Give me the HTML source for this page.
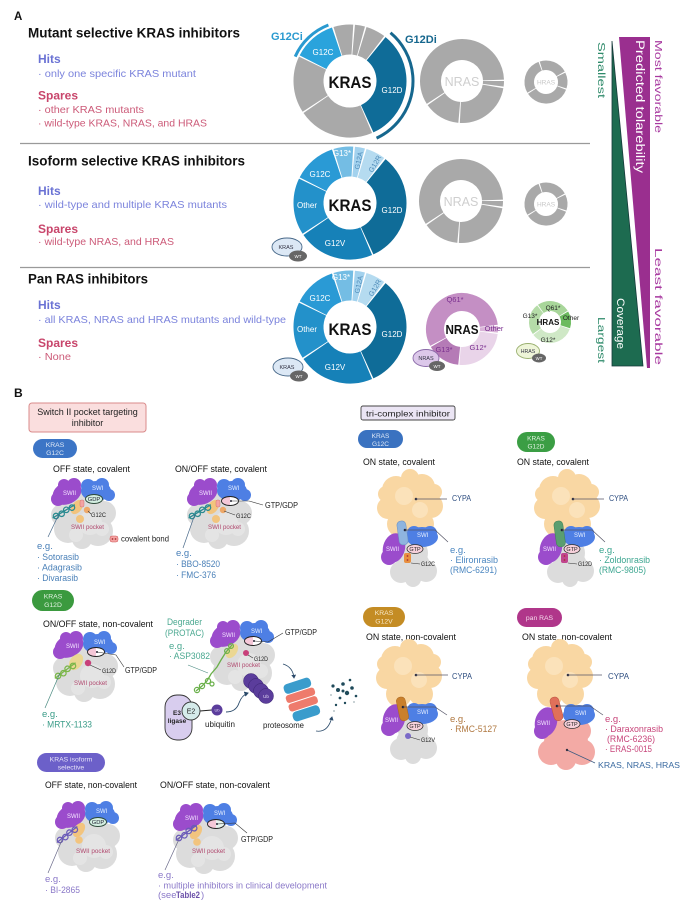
<!DOCTYPE html>
<html><head><meta charset="utf-8"><style>
html,body{margin:0;padding:0;background:#fff;}
svg{display:block;}
text{font-family:"Liberation Sans",Arial,sans-serif;}
</style></head><body>
<svg width="681" height="904" viewBox="0 0 681 904" xmlns="http://www.w3.org/2000/svg">
<defs>
<g id="prot">
  <g fill="#dcdcdc">
    <circle cx="0" cy="4" r="25"/><circle cx="-16" cy="14" r="14"/><circle cx="14" cy="16" r="15"/>
    <circle cx="-2" cy="24" r="10"/><circle cx="20" cy="-2" r="12"/><circle cx="-22" cy="0" r="11"/>
    <circle cx="4" cy="-12" r="16"/>
  </g>
  <g fill="#e4e4e4"><circle cx="6" cy="8" r="12"/><circle cx="-8" cy="20" r="7"/><circle cx="18" cy="14" r="7"/></g>
  <g fill="#9b4ccc">
    <ellipse cx="-17" cy="-22" rx="15" ry="11" transform="rotate(-25 -17 -22)"/>
    <circle cx="-26" cy="-16" r="7"/><circle cx="-10" cy="-30" r="7"/><circle cx="-20" cy="-30" r="6"/>
  </g>
  <g fill="#4e7fe4">
    <ellipse cx="12" cy="-24" rx="15" ry="10"/>
    <circle cx="4" cy="-29" r="7"/><circle cx="18" cy="-30" r="7"/><circle cx="25" cy="-20" r="6"/>
  </g>
</g>
<g id="cypa">
  <g fill="#f9d7a3">
    <circle cx="0" cy="0" r="24"/><circle cx="-14" cy="-14" r="14"/><circle cx="12" cy="-17" r="13"/>
    <circle cx="-22" cy="4" r="11"/><circle cx="21" cy="2" r="12"/><circle cx="0" cy="-26" r="9"/>
    <circle cx="-10" cy="20" r="13"/><circle cx="12" cy="20" r="12"/><circle cx="-24" cy="-10" r="8"/><circle cx="24" cy="-12" r="8"/>
  </g>
  <g fill="#fbe2ba"><circle cx="-6" cy="-8" r="9"/><circle cx="10" cy="6" r="8"/></g>
</g>
<g id="chain" fill="none" stroke-width="1.3">
  <line x1="-4" y1="0" x2="22" y2="0"/>
  <circle cx="0" cy="0" r="2.7"/><circle cx="6" cy="1" r="2.7"/><circle cx="12" cy="0" r="2.7"/><circle cx="18" cy="1" r="2.7"/>
</g>
<marker id="ah" markerWidth="6" markerHeight="6" refX="4" refY="3" orient="auto"><path d="M0,0 L5,3 L0,6 z" fill="#2a4a6a"/></marker>
</defs>

<!-- ===== PART A ===== -->
<text x="14" y="20" font-size="11.5" font-weight="bold" fill="#111">A</text>

<text x="28" y="37.5" font-size="13.5" font-weight="bold" fill="#111" textLength="212" lengthAdjust="spacingAndGlyphs">Mutant selective KRAS inhibitors</text>
<text x="38" y="63" font-size="12" font-weight="bold" fill="#6a72d4">Hits</text>
<text x="38" y="77" font-size="10.5" fill="#7b83dc" textLength="158" lengthAdjust="spacingAndGlyphs">· only one specific KRAS mutant</text>
<text x="38" y="99.5" font-size="12" font-weight="bold" fill="#c8456b">Spares</text>
<text x="38" y="113" font-size="10.5" fill="#cc5a78" textLength="106" lengthAdjust="spacingAndGlyphs">· other KRAS mutants</text>
<text x="38" y="126.5" font-size="10.5" fill="#cc5a78" textLength="169" lengthAdjust="spacingAndGlyphs">· wild-type KRAS, NRAS, and HRAS</text>

<line x1="20" y1="143.5" x2="590" y2="143.5" stroke="#9a9a9a" stroke-width="1.3"/>

<text x="28" y="165.5" font-size="13.5" font-weight="bold" fill="#111" textLength="217" lengthAdjust="spacingAndGlyphs">Isoform selective KRAS inhibitors</text>
<text x="38" y="195" font-size="12" font-weight="bold" fill="#6a72d4">Hits</text>
<text x="38" y="208" font-size="10.5" fill="#7b83dc" textLength="189" lengthAdjust="spacingAndGlyphs">· wild-type and multiple KRAS mutants</text>
<text x="38" y="233" font-size="12" font-weight="bold" fill="#c8456b">Spares</text>
<text x="38" y="245" font-size="10.5" fill="#cc5a78" textLength="136" lengthAdjust="spacingAndGlyphs">· wild-type NRAS, and HRAS</text>

<line x1="20" y1="267.5" x2="590" y2="267.5" stroke="#9a9a9a" stroke-width="1.3"/>

<text x="28" y="283.5" font-size="13.5" font-weight="bold" fill="#111" textLength="120" lengthAdjust="spacingAndGlyphs">Pan RAS inhibitors</text>
<text x="38" y="309" font-size="12" font-weight="bold" fill="#6a72d4">Hits</text>
<text x="38" y="323" font-size="10.5" fill="#7b83dc" textLength="248" lengthAdjust="spacingAndGlyphs">· all KRAS, NRAS and HRAS mutants and wild-type</text>
<text x="38" y="347" font-size="12" font-weight="bold" fill="#c8456b">Spares</text>
<text x="38" y="360" font-size="10.5" fill="#cc5a78" textLength="33" lengthAdjust="spacingAndGlyphs">· None</text>

<!-- Sec1 donuts -->
<g transform="translate(350,81)" fill="none" stroke-width="30">
<circle r="41.5" stroke="#2aa3dc" stroke-dasharray="32.1 400" transform="rotate(207)"/>
<circle r="41.5" stroke="#a9a9a9" stroke-dasharray="14.7 400" transform="rotate(253)"/>
<circle r="41.5" stroke="#a9a9a9" stroke-dasharray="7.5 400" transform="rotate(-85)"/>
<circle r="41.5" stroke="#a9a9a9" stroke-dasharray="14.7 400" transform="rotate(-73)"/>
<circle r="41.5" stroke="#0f6c98" stroke-dasharray="84.3 400" transform="rotate(-51)"/>
<circle r="41.5" stroke="#a9a9a9" stroke-dasharray="56.7 400" transform="rotate(67)"/>
<circle r="41.5" stroke="#a9a9a9" stroke-dasharray="42.3 400" transform="rotate(147)"/>
</g>
<circle cx="350" cy="81" r="60" fill="none" stroke="#2a9ad0" stroke-width="3" stroke-dasharray="47 500" transform="rotate(204 350 81)"/>
<circle cx="350" cy="81" r="63" fill="none" stroke="#16678e" stroke-width="3" stroke-dasharray="126.5 500" transform="rotate(-50 350 81)"/>
<text x="271" y="40" font-size="11" font-weight="bold" fill="#2a9ad0">G12Ci</text>
<text x="405" y="43" font-size="11" font-weight="bold" fill="#16678e">G12Di</text>
<text x="350" y="88" font-size="16.5" font-weight="bold" fill="#111" text-anchor="middle" textLength="43" lengthAdjust="spacingAndGlyphs">KRAS</text>
<text x="323" y="55" font-size="8" fill="#fff" text-anchor="middle">G12C</text>
<text x="392" y="93" font-size="8" fill="#fff" text-anchor="middle">G12D</text>

<g transform="translate(462,81)" fill="none" stroke-width="21" stroke="#a9a9a9">
<circle r="31.5" stroke-dasharray="115.9 300" transform="rotate(147)"/>
<circle r="31.5" stroke-dasharray="4.3 300" transform="rotate(0)"/>
<circle r="31.5" stroke-dasharray="45.5 300" transform="rotate(10)"/>
<circle r="31.5" stroke-dasharray="27.4 300" transform="rotate(95)"/>
</g>
<text x="462" y="86" font-size="12.5" fill="#cfcfcf" text-anchor="middle">NRAS</text>
<g transform="translate(546,82)" fill="none" stroke-width="9.5" stroke="#a9a9a9">
<circle r="16.75" stroke-dasharray="22.7 200" transform="rotate(253)"/>
<circle r="16.75" stroke-dasharray="12.7 200" transform="rotate(-26)"/>
<circle r="16.75" stroke-dasharray="36.7 200" transform="rotate(21)"/>
<circle r="16.75" stroke-dasharray="29.1 200" transform="rotate(150)"/>
</g>
<text x="546" y="84.5" font-size="6.5" fill="#c8c8c8" text-anchor="middle">HRAS</text>

<!-- Sec2 donuts -->
<g transform="translate(350,203)" fill="none" stroke-width="30">
<circle r="41.5" stroke="#2a9ad5" stroke-dasharray="32.1 400" transform="rotate(207)"/>
<circle r="41.5" stroke="#74bde4" stroke-dasharray="14.7 400" transform="rotate(253)"/>
<circle r="41.5" stroke="#a3d2ee" stroke-dasharray="7.5 400" transform="rotate(-85)"/>
<circle r="41.5" stroke="#b5dbf0" stroke-dasharray="14.7 400" transform="rotate(-73)"/>
<circle r="41.5" stroke="#0f6c98" stroke-dasharray="84.3 400" transform="rotate(-51)"/>
<circle r="41.5" stroke="#1681b8" stroke-dasharray="56.7 400" transform="rotate(67)"/>
<circle r="41.5" stroke="#2391ca" stroke-dasharray="42.3 400" transform="rotate(147)"/>
</g>
<text x="350" y="211" font-size="16.5" font-weight="bold" fill="#111" text-anchor="middle" textLength="43" lengthAdjust="spacingAndGlyphs">KRAS</text>
<g font-size="8" fill="#fff" text-anchor="middle">
<text x="320" y="177">G12C</text><text x="342" y="156">G13*</text>
<text x="392" y="213">G12D</text><text x="335" y="246">G12V</text><text x="307" y="208">Other</text>
</g>
<text x="0" y="0" font-size="7" fill="#4d8ab8" text-anchor="middle" transform="translate(361,161) rotate(-78)">G12A</text>
<text x="0" y="0" font-size="7" fill="#4d8ab8" text-anchor="middle" transform="translate(377,165) rotate(-60)">G12R</text>

<g transform="translate(461,201)" fill="none" stroke-width="21" stroke="#a9a9a9">
<circle r="31.5" stroke-dasharray="115.9 300" transform="rotate(147)"/>
<circle r="31.5" stroke-dasharray="4.3 300" transform="rotate(0)"/>
<circle r="31.5" stroke-dasharray="45.5 300" transform="rotate(10)"/>
<circle r="31.5" stroke-dasharray="27.4 300" transform="rotate(95)"/>
</g>
<text x="461" y="206" font-size="12.5" fill="#cfcfcf" text-anchor="middle">NRAS</text>
<g transform="translate(546,204)" fill="none" stroke-width="9.5" stroke="#a9a9a9">
<circle r="16.75" stroke-dasharray="22.7 200" transform="rotate(253)"/>
<circle r="16.75" stroke-dasharray="12.7 200" transform="rotate(-26)"/>
<circle r="16.75" stroke-dasharray="36.7 200" transform="rotate(21)"/>
<circle r="16.75" stroke-dasharray="29.1 200" transform="rotate(150)"/>
</g>
<text x="546" y="206.5" font-size="6.5" fill="#c8c8c8" text-anchor="middle">HRAS</text>

<!-- WT badge sec2 -->
<ellipse cx="287" cy="247" rx="15" ry="9" fill="#dce8f5" stroke="#4a6a8a" stroke-width="0.9"/>
<text x="286" y="249" font-size="5.5" fill="#334" text-anchor="middle">KRAS</text>
<ellipse cx="298" cy="256" rx="9" ry="5.5" fill="#666"/>
<text x="298" y="257.8" font-size="4.5" fill="#fff" text-anchor="middle">WT</text>

<!-- Sec3 donuts -->
<g transform="translate(350,327)" fill="none" stroke-width="30">
<circle r="41.5" stroke="#2a9ad5" stroke-dasharray="32.1 400" transform="rotate(207)"/>
<circle r="41.5" stroke="#74bde4" stroke-dasharray="14.7 400" transform="rotate(253)"/>
<circle r="41.5" stroke="#a3d2ee" stroke-dasharray="7.5 400" transform="rotate(-85)"/>
<circle r="41.5" stroke="#b5dbf0" stroke-dasharray="14.7 400" transform="rotate(-73)"/>
<circle r="41.5" stroke="#0f6c98" stroke-dasharray="84.3 400" transform="rotate(-51)"/>
<circle r="41.5" stroke="#1681b8" stroke-dasharray="56.7 400" transform="rotate(67)"/>
<circle r="41.5" stroke="#2391ca" stroke-dasharray="42.3 400" transform="rotate(147)"/>
</g>
<text x="350" y="335" font-size="16.5" font-weight="bold" fill="#111" text-anchor="middle" textLength="43" lengthAdjust="spacingAndGlyphs">KRAS</text>
<g font-size="8" fill="#fff" text-anchor="middle">
<text x="320" y="301">G12C</text><text x="341" y="280">G13*</text>
<text x="392" y="337">G12D</text><text x="335" y="370">G12V</text><text x="307" y="332">Other</text>
</g>
<text x="0" y="0" font-size="7" fill="#4d8ab8" text-anchor="middle" transform="translate(361,285) rotate(-78)">G12A</text>
<text x="0" y="0" font-size="7" fill="#4d8ab8" text-anchor="middle" transform="translate(377,289) rotate(-60)">G12R</text>
<ellipse cx="288" cy="367" rx="15" ry="9" fill="#dce8f5" stroke="#4a6a8a" stroke-width="0.9"/>
<text x="287" y="369" font-size="5.5" fill="#334" text-anchor="middle">KRAS</text>
<ellipse cx="299" cy="376" rx="9" ry="5.5" fill="#666"/>
<text x="299" y="377.8" font-size="4.5" fill="#fff" text-anchor="middle">WT</text>

<!-- NRAS pink -->
<g transform="translate(462,329)" fill="none" stroke-width="18">
<circle r="27" stroke="#c48fc4" stroke-dasharray="94.7 300" transform="rotate(152)"/>
<circle r="27" stroke="#d9b3d8" stroke-dasharray="5.1 300" transform="rotate(-5)"/>
<circle r="27" stroke="#e9d4e9" stroke-dasharray="40.5 300" transform="rotate(8)"/>
<circle r="27" stroke="#b57bb6" stroke-dasharray="25.4 300" transform="rotate(96)"/>
</g>
<text x="462" y="334" font-size="12.5" font-weight="bold" fill="#111" text-anchor="middle" textLength="33" lengthAdjust="spacingAndGlyphs">NRAS</text>
<g font-size="7.5" fill="#7a2f8f" text-anchor="middle">
<text x="455" y="302">Q61*</text><text x="494" y="331">Other</text><text x="478" y="350">G12*</text><text x="444" y="352">G13*</text>
</g>
<ellipse cx="426" cy="358" rx="13" ry="8.5" fill="#dcc8ea" stroke="#8a6aa8" stroke-width="0.9"/>
<text x="426" y="360" font-size="5.5" fill="#334" text-anchor="middle">NRAS</text>
<ellipse cx="437" cy="366" rx="8" ry="5" fill="#666"/>
<text x="437" y="367.8" font-size="4.5" fill="#fff" text-anchor="middle">WT</text>

<!-- HRAS green -->
<g transform="translate(550,322)" fill="none" stroke-width="10">
<circle r="16" stroke="#a8d69a" stroke-dasharray="25.7 200" transform="rotate(235)"/>
<circle r="16" stroke="#6cbb5e" stroke-dasharray="13.2 200" transform="rotate(-30)"/>
<circle r="16" stroke="#cfe8c6" stroke-dasharray="34.1 200" transform="rotate(20)"/>
<circle r="16" stroke="#b5dca8" stroke-dasharray="24.3 200" transform="rotate(145)"/>
</g>
<text x="548" y="325" font-size="8" font-weight="bold" fill="#111" text-anchor="middle">HRAS</text>
<g font-size="6.5" fill="#222" text-anchor="middle">
<text x="553" y="310">Q61*</text><text x="530" y="318">G13*</text><text x="571" y="320">Other</text><text x="548" y="342">G12*</text>
</g>
<ellipse cx="528" cy="351" rx="11.5" ry="7.5" fill="#eef5d8" stroke="#9ab070" stroke-width="0.9"/>
<text x="528" y="353" font-size="5.2" fill="#334" text-anchor="middle">HRAS</text>
<ellipse cx="539" cy="358" rx="7" ry="4.5" fill="#666"/>
<text x="539" y="359.8" font-size="4.3" fill="#fff" text-anchor="middle">WT</text>

<!-- Right bar -->
<polygon points="612,41 643,366 612,366" fill="#1d6b50" stroke="#163a3a" stroke-width="0.8"/>
<polygon points="619,37 650,37 650,368 647,368" fill="#9a2f8f"/>
<text font-size="11.5" fill="#fff" transform="translate(636,40) rotate(90)" textLength="133" lengthAdjust="spacingAndGlyphs">Predicted tolarebility</text>
<text font-size="11" fill="#fff" transform="translate(617,298) rotate(90)" textLength="51" lengthAdjust="spacingAndGlyphs">Coverage</text>
<text font-size="10.5" fill="#2e8a6a" transform="translate(598,42) rotate(90)" textLength="56" lengthAdjust="spacingAndGlyphs">Smallest</text>
<text font-size="10.5" fill="#2e8a6a" transform="translate(598,317) rotate(90)" textLength="46" lengthAdjust="spacingAndGlyphs">Largest</text>
<text font-size="10.5" fill="#a83aa0" transform="translate(655,40) rotate(90)" textLength="93" lengthAdjust="spacingAndGlyphs">Most favorable</text>
<text font-size="10.5" fill="#a83aa0" transform="translate(655,248) rotate(90)" textLength="117" lengthAdjust="spacingAndGlyphs">Least favorable</text>

<!-- ===== PART B ===== -->
<text x="14" y="397" font-size="12" font-weight="bold" fill="#111">B</text>
<rect x="29" y="403" width="117" height="29" rx="3" fill="#fadede" stroke="#d98b8b" stroke-width="1"/>
<text x="87.5" y="415" font-size="9" fill="#222" text-anchor="middle">Switch II pocket targeting</text>
<text x="87.5" y="426" font-size="9" fill="#222" text-anchor="middle">inhibitor</text>

<rect x="33" y="439" width="44" height="19" rx="9.5" fill="#3c75c6"/>
<text x="55" y="447" font-size="6.8" fill="#dfe9f7" text-anchor="middle">KRAS</text>
<text x="55" y="455" font-size="6.8" fill="#dfe9f7" text-anchor="middle">G12C</text>

<text x="53" y="472" font-size="9.5" fill="#111" textLength="77" lengthAdjust="spacingAndGlyphs">OFF state, covalent</text>
<text x="175" y="472" font-size="9.5" fill="#111" textLength="92" lengthAdjust="spacingAndGlyphs">ON/OFF state, covalent</text>

<!-- P1 -->
<use href="#prot" x="84" y="515"/>
<ellipse cx="77" cy="507" rx="5" ry="8" fill="#f2c47e" transform="rotate(35 77 507)"/>
<circle cx="80" cy="519" r="4" fill="#f2c47e"/>
<circle cx="87" cy="510" r="3.2" fill="#eea868"/>
<rect x="80" y="500" width="4" height="7" rx="1.5" fill="#f4a3a3" stroke="#c66" stroke-width="0.4"/>
<use href="#chain" stroke="#2a8a90" transform="translate(56,516) rotate(-31)"/>
<text x="63" y="495" font-size="6" fill="#f4e6ff">SWII</text>
<text x="92" y="490" font-size="6" fill="#e6efff">SWI</text>
<ellipse cx="94" cy="499" rx="8.5" ry="4.5" fill="#d4efe2" stroke="#2d4a3a" stroke-width="0.9"/>
<text x="94" y="501" font-size="5.8" fill="#223" text-anchor="middle">GDP</text>
<line x1="88" y1="511" x2="91" y2="514" stroke="#333" stroke-width="0.6"/>
<text x="91" y="517" font-size="6.5" fill="#222" textLength="15" lengthAdjust="spacingAndGlyphs">G12C</text>
<text x="71" y="529" font-size="6.5" fill="#b0486e" textLength="33" lengthAdjust="spacingAndGlyphs">SWII pocket</text>
<line x1="59" y1="514" x2="48" y2="537" stroke="#4a6a8a" stroke-width="0.7"/>
<rect x="110" y="536" width="8" height="6" rx="2" fill="#f4a3a3" stroke="#c55" stroke-width="0.5"/>
<circle cx="112.5" cy="539" r="0.9" fill="#a33"/><circle cx="115.5" cy="539" r="0.9" fill="#a33"/>
<text x="121" y="541.5" font-size="8" fill="#222" textLength="48" lengthAdjust="spacingAndGlyphs">covalent bond</text>
<g font-size="9.5" fill="#4a80b8">
<text x="37" y="549">e.g.</text>
<text x="37" y="560" textLength="42" lengthAdjust="spacingAndGlyphs">· Sotorasib</text>
<text x="37" y="570.5" textLength="45" lengthAdjust="spacingAndGlyphs">· Adagrasib</text>
<text x="37" y="581" textLength="41" lengthAdjust="spacingAndGlyphs">· Divarasib</text>
</g>

<!-- P2 -->
<use href="#prot" x="220" y="515"/>
<ellipse cx="213" cy="507" rx="5" ry="8" fill="#f2c47e" transform="rotate(35 213 507)"/>
<circle cx="216" cy="519" r="4" fill="#f2c47e"/>
<circle cx="223" cy="510" r="3.2" fill="#eea868"/>
<rect x="216" y="500" width="4" height="7" rx="1.5" fill="#f4a3a3" stroke="#c66" stroke-width="0.4"/>
<use href="#chain" stroke="#2a8a90" transform="translate(192,516) rotate(-31)"/>
<text x="199" y="495" font-size="6" fill="#f4e6ff">SWII</text>
<text x="228" y="490" font-size="6" fill="#e6efff">SWI</text>
<path d="M230,496.5 A8.5,4.5 0 0 0 230,505.5 Z" fill="#f5c8d8"/>
<path d="M230,496.5 A8.5,4.5 0 0 1 230,505.5 Z" fill="#fff"/>
<ellipse cx="230" cy="501" rx="8.5" ry="4.5" fill="none" stroke="#222" stroke-width="0.9"/>
<circle cx="231" cy="501" r="1" fill="#223"/>
<polyline points="231,501 249,501 263,505" fill="none" stroke="#333" stroke-width="0.6"/>
<text x="265" y="508" font-size="8" fill="#222" textLength="33" lengthAdjust="spacingAndGlyphs">GTP/GDP</text>
<line x1="224" y1="511" x2="235" y2="515" stroke="#333" stroke-width="0.6"/>
<text x="236" y="518" font-size="6.5" fill="#222" textLength="15" lengthAdjust="spacingAndGlyphs">G12C</text>
<text x="208" y="529" font-size="6.5" fill="#b0486e" textLength="33" lengthAdjust="spacingAndGlyphs">SWII pocket</text>
<line x1="195" y1="514" x2="183" y2="548" stroke="#4a6a8a" stroke-width="0.7"/>
<g font-size="9.5" fill="#4a80b8">
<text x="176" y="556">e.g.</text>
<text x="176" y="567" textLength="44" lengthAdjust="spacingAndGlyphs">· BBO-8520</text>
<text x="176" y="578" textLength="40" lengthAdjust="spacingAndGlyphs">· FMC-376</text>
</g>

<!-- tri-complex -->
<rect x="361" y="406" width="94" height="14" rx="2" fill="#ebe5f4" stroke="#444" stroke-width="0.9"/>
<text x="366" y="416.5" font-size="8.5" fill="#222" textLength="84" lengthAdjust="spacingAndGlyphs">tri-complex inhibitor</text>
<rect x="358" y="430" width="45" height="18" rx="9" fill="#3a72c0"/>
<text x="380.5" y="438" font-size="6.5" fill="#dfe9f7" text-anchor="middle">KRAS</text>
<text x="380.5" y="446" font-size="6.5" fill="#dfe9f7" text-anchor="middle">G12C</text>
<rect x="517" y="432" width="38" height="20" rx="10" fill="#3b9e44"/>
<text x="536" y="440.5" font-size="6.5" fill="#e3f3e3" text-anchor="middle">KRAS</text>
<text x="536" y="448.5" font-size="6.5" fill="#e3f3e3" text-anchor="middle">G12D</text>
<text x="363" y="465" font-size="9.5" fill="#111" textLength="72" lengthAdjust="spacingAndGlyphs">ON state, covalent</text>
<text x="517" y="465" font-size="9.5" fill="#111" textLength="72" lengthAdjust="spacingAndGlyphs">ON state, covalent</text>

<!-- Tri A -->
<g fill="#dcdcdc"><circle cx="413" cy="566" r="17"/><circle cx="401" cy="572" r="11"/><circle cx="426" cy="571" r="11"/><circle cx="413" cy="553" r="15"/><circle cx="413" cy="579" r="8"/></g>
<use href="#cypa" x="410" y="504"/>
<g fill="#9b4ccc"><ellipse cx="394" cy="548" rx="11" ry="15" transform="rotate(15 394 548)"/><circle cx="389" cy="557" r="8"/></g>
<g fill="#4e7fe4"><ellipse cx="422" cy="537" rx="16" ry="10"/><circle cx="414" cy="533" r="7"/><circle cx="430" cy="533" r="7"/></g>
<text x="386" y="551" font-size="6" fill="#f4e6ff">SWII</text>
<text x="417" y="537" font-size="6" fill="#e6efff">SWI</text>
<rect x="398" y="521" width="9" height="24" rx="4" fill="#8fb4df" stroke="#6a8fc0" stroke-width="0.5" transform="rotate(-8 402 533)"/>
<rect x="404" y="553" width="7" height="10" rx="2" fill="#e89040"/>
<circle cx="407.5" cy="556" r="0.9" fill="#a33"/><circle cx="407.5" cy="560" r="0.9" fill="#a33"/>
<ellipse cx="415" cy="549" rx="8" ry="4.5" fill="#f6d0da" stroke="#333" stroke-width="0.8"/>
<text x="415" y="551" font-size="5.5" fill="#222" text-anchor="middle">GTP</text>
<circle cx="405" cy="530" r="1.3" fill="#223"/>
<polyline points="405,530 435,530 448,542" fill="none" stroke="#556" stroke-width="0.7"/>
<circle cx="416" cy="499" r="1.3" fill="#334"/>
<line x1="416" y1="499" x2="447" y2="499" stroke="#556" stroke-width="0.7"/>
<line x1="411" y1="563" x2="420" y2="564" stroke="#333" stroke-width="0.6"/>
<text x="421" y="566" font-size="6" fill="#222" textLength="14" lengthAdjust="spacingAndGlyphs">G12C</text>
<text x="452" y="501" font-size="8" fill="#2e4e80" textLength="19" lengthAdjust="spacingAndGlyphs">CYPA</text>
<g font-size="9.5" fill="#4a86c0">
<text x="450" y="553">e.g.</text>
<text x="450" y="563" textLength="48" lengthAdjust="spacingAndGlyphs">· Elironrasib</text>
<text x="450" y="573" textLength="47" lengthAdjust="spacingAndGlyphs">(RMC-6291)</text>
</g>

<!-- Tri B -->
<g fill="#dcdcdc"><circle cx="570" cy="566" r="17"/><circle cx="558" cy="572" r="11"/><circle cx="583" cy="571" r="11"/><circle cx="570" cy="553" r="15"/><circle cx="570" cy="579" r="8"/></g>
<use href="#cypa" x="567" y="504"/>
<g fill="#9b4ccc"><ellipse cx="551" cy="548" rx="11" ry="15" transform="rotate(15 551 548)"/><circle cx="546" cy="557" r="8"/></g>
<g fill="#4e7fe4"><ellipse cx="579" cy="537" rx="16" ry="10"/><circle cx="571" cy="533" r="7"/><circle cx="587" cy="533" r="7"/></g>
<text x="543" y="551" font-size="6" fill="#f4e6ff">SWII</text>
<text x="574" y="537" font-size="6" fill="#e6efff">SWI</text>
<rect x="555" y="521" width="9" height="26" rx="4" fill="#5a9e70" stroke="#3f7f55" stroke-width="0.5" transform="rotate(-8 559 533)"/>
<rect x="561" y="553" width="7" height="10" rx="2" fill="#c0458e"/>
<circle cx="564.5" cy="556" r="0.9" fill="#a33"/><circle cx="564.5" cy="560" r="0.9" fill="#a33"/>
<ellipse cx="572" cy="549" rx="8" ry="4.5" fill="#f6d0da" stroke="#333" stroke-width="0.8"/>
<text x="572" y="551" font-size="5.5" fill="#222" text-anchor="middle">GTP</text>
<circle cx="562" cy="530" r="1.3" fill="#223"/>
<polyline points="562,530 592,530 605,542" fill="none" stroke="#556" stroke-width="0.7"/>
<circle cx="573" cy="499" r="1.3" fill="#334"/>
<line x1="573" y1="499" x2="604" y2="499" stroke="#556" stroke-width="0.7"/>
<line x1="568" y1="563" x2="577" y2="564" stroke="#333" stroke-width="0.6"/>
<text x="578" y="566" font-size="6" fill="#222" textLength="14" lengthAdjust="spacingAndGlyphs">G12D</text>
<text x="609" y="501" font-size="8" fill="#2e4e80" textLength="19" lengthAdjust="spacingAndGlyphs">CYPA</text>
<g font-size="9.5" fill="#3aa58f">
<text x="599" y="553">e.g.</text>
<text x="599" y="563" textLength="51" lengthAdjust="spacingAndGlyphs">· Zoldonrasib</text>
<text x="599" y="573" textLength="47" lengthAdjust="spacingAndGlyphs">(RMC-9805)</text>
</g>

<!-- KRAS G12D non-covalent -->
<rect x="32" y="590" width="42" height="21" rx="10.5" fill="#3b9a3f"/>
<text x="53" y="598.5" font-size="6.8" fill="#e3f3e3" text-anchor="middle">KRAS</text>
<text x="53" y="607" font-size="6.8" fill="#e3f3e3" text-anchor="middle">G12D</text>
<text x="43" y="627" font-size="9.5" fill="#111" textLength="110" lengthAdjust="spacingAndGlyphs">ON/OFF state, non-covalent</text>
<use href="#prot" x="86" y="668"/>
<ellipse cx="76" cy="662" rx="6" ry="9" fill="#ecd68a" opacity="0.9" transform="rotate(35 76 662)"/>
<circle cx="88" cy="663" r="3.2" fill="#c8407a"/>
<use href="#chain" stroke="#7ab648" transform="translate(58,676) rotate(-37)"/>
<text x="66" y="648" font-size="6" fill="#f4e6ff">SWII</text>
<text x="94" y="644" font-size="6" fill="#e6efff">SWI</text>
<path d="M96,647.5 A8.5,4.5 0 0 0 96,656.5 Z" fill="#f5c8d8"/>
<path d="M96,647.5 A8.5,4.5 0 0 1 96,656.5 Z" fill="#fff"/>
<ellipse cx="96" cy="652" rx="8.5" ry="4.5" fill="none" stroke="#222" stroke-width="0.9"/>
<circle cx="97" cy="652" r="1" fill="#223"/>
<polyline points="97,652 116,655 124,667" fill="none" stroke="#333" stroke-width="0.6"/>
<line x1="90" y1="665" x2="101" y2="670" stroke="#333" stroke-width="0.6"/>
<text x="102" y="673" font-size="6.5" fill="#222" textLength="14" lengthAdjust="spacingAndGlyphs">G12D</text>
<text x="125" y="673" font-size="8" fill="#222" textLength="32" lengthAdjust="spacingAndGlyphs">GTP/GDP</text>
<text x="74" y="685" font-size="6.5" fill="#b0486e" textLength="33" lengthAdjust="spacingAndGlyphs">SWII pocket</text>
<line x1="60" y1="673" x2="45" y2="708" stroke="#4a8a80" stroke-width="0.7"/>
<g font-size="9.5" fill="#3a9c88">
<text x="42" y="717">e.g.</text>
<text x="42" y="727.5" textLength="50" lengthAdjust="spacingAndGlyphs">· MRTX-1133</text>
</g>

<!-- Degrader -->
<g font-size="9.5" fill="#4aa890">
<text x="167" y="625" textLength="35" lengthAdjust="spacingAndGlyphs">Degrader</text>
<text x="165" y="636" textLength="39" lengthAdjust="spacingAndGlyphs">(PROTAC)</text>
<text x="169" y="649">e.g.</text>
<text x="169" y="659" textLength="41" lengthAdjust="spacingAndGlyphs">· ASP3082</text>
</g>
<use href="#prot" x="243" y="657"/>
<ellipse cx="232" cy="651" rx="5" ry="8" fill="#ecd68a" opacity="0.9" transform="rotate(35 232 651)"/>
<circle cx="246" cy="653" r="3" fill="#c8407a"/>
<text x="222" y="637" font-size="6" fill="#f4e6ff">SWII</text>
<text x="251" y="633" font-size="6" fill="#e6efff">SWI</text>
<path d="M253,636.5 A8.5,4.5 0 0 0 253,645.5 Z" fill="#f5c8d8"/>
<path d="M253,636.5 A8.5,4.5 0 0 1 253,645.5 Z" fill="#fff"/>
<ellipse cx="253" cy="641" rx="8.5" ry="4.5" fill="none" stroke="#222" stroke-width="0.9"/>
<circle cx="254" cy="641" r="1" fill="#223"/>
<polyline points="254,641 268,642 283,633" fill="none" stroke="#333" stroke-width="0.6"/>
<text x="285" y="635" font-size="8" fill="#222" textLength="32" lengthAdjust="spacingAndGlyphs">GTP/GDP</text>
<line x1="248" y1="655" x2="253" y2="658" stroke="#333" stroke-width="0.6"/>
<text x="254" y="661" font-size="6.5" fill="#222" textLength="14" lengthAdjust="spacingAndGlyphs">G12D</text>
<text x="227" y="667" font-size="6.5" fill="#b0486e" textLength="33" lengthAdjust="spacingAndGlyphs">SWII pocket</text>
<polyline points="196,691 202,686 207,681 211,674 217,667 221,660 226,652 232,645" fill="none" stroke="#6ab04a" stroke-width="1.3"/>
<g fill="none" stroke="#6ab04a" stroke-width="1.2"><circle cx="197" cy="690" r="2.6"/><circle cx="202" cy="686" r="2.6"/><circle cx="208" cy="681" r="2.6"/><circle cx="212" cy="684" r="2"/><circle cx="227" cy="651" r="2.4"/><circle cx="231" cy="646" r="2.4"/></g>
<line x1="188" y1="665" x2="208" y2="673" stroke="#4a8a80" stroke-width="0.6"/>
<g fill="#5b3d9c" stroke="#3a2470" stroke-width="0.5">
<circle cx="251" cy="681" r="7.5"/><circle cx="256" cy="686" r="7.5"/><circle cx="261" cy="691" r="7.5"/><circle cx="266" cy="696" r="7.5"/>
</g>
<g font-size="4.5" fill="#e6ddf7" text-anchor="middle"><text x="266" y="698">Ub</text></g>
<rect x="165" y="695" width="27" height="45" rx="12" fill="#d8cdee" stroke="#333" stroke-width="0.9"/>
<text x="177" y="715" font-size="6.5" font-weight="bold" fill="#222" text-anchor="middle">E3</text>
<text x="177" y="723" font-size="6.5" font-weight="bold" fill="#222" text-anchor="middle">ligase</text>
<line x1="200" y1="711" x2="212" y2="710" stroke="#222" stroke-width="0.9"/>
<circle cx="191" cy="711" r="9" fill="#d5ebea" stroke="#333" stroke-width="0.9"/>
<text x="191" y="713.5" font-size="7" fill="#222" text-anchor="middle">E2</text>
<circle cx="217" cy="710" r="5.5" fill="#5b3d9c"/>
<text x="217" y="711.5" font-size="4" fill="#e6ddf7" text-anchor="middle">Ub</text>
<text x="205" y="727" font-size="8" fill="#222" textLength="30" lengthAdjust="spacingAndGlyphs">ubiquitin</text>
<path d="M226,712 Q236,712 239,703 Q242,695 248,693" fill="none" stroke="#2a4a6a" stroke-width="0.9" marker-end="url(#ah)"/>
<path d="M283,664 Q293,667 294,678" fill="none" stroke="#2a4a6a" stroke-width="0.8" marker-end="url(#ah)"/>
<g transform="translate(302,700) rotate(-18)">
<rect x="-14" y="-20" width="28" height="10" rx="4" fill="#3a9ccc"/>
<rect x="-15" y="-9" width="30" height="8" rx="3" fill="#ee7b6c"/>
<rect x="-15" y="0" width="30" height="8" rx="3" fill="#ee7b6c"/>
<rect x="-14" y="9" width="28" height="10" rx="4" fill="#3a9ccc"/>
</g>
<text x="263" y="728" font-size="8" fill="#222" textLength="41" lengthAdjust="spacingAndGlyphs">proteosome</text>
<path d="M316,731 Q328,733 332,717" fill="none" stroke="#2a4a6a" stroke-width="0.8" marker-end="url(#ah)"/>
<g fill="#1f4a5a">
<circle cx="333" cy="686" r="1.6"/><circle cx="338" cy="690" r="2"/><circle cx="343" cy="684" r="1.8"/><circle cx="347" cy="693" r="2.2"/>
<circle cx="340" cy="698" r="1.4"/><circle cx="352" cy="688" r="1.8"/><circle cx="356" cy="696" r="1.3"/><circle cx="345" cy="703" r="1.2"/>
<circle cx="336" cy="705" r="1.2"/><circle cx="350" cy="680" r="1.3"/><circle cx="343" cy="691" r="1.5"/>
</g>
<g fill="#b8c4c8"><circle cx="331" cy="695" r="1"/><circle cx="354" cy="702" r="1"/><circle cx="334" cy="711" r="1"/></g>

<!-- KRAS G12V / pan RAS -->
<rect x="363" y="607" width="42" height="20" rx="10" fill="#c48c24"/>
<text x="384" y="615" font-size="6.8" fill="#f7e8c8" text-anchor="middle">KRAS</text>
<text x="384" y="623.5" font-size="6.8" fill="#f7e8c8" text-anchor="middle">G12V</text>
<rect x="517" y="608" width="45" height="19" rx="9.5" fill="#b0368a"/>
<text x="539.5" y="620" font-size="6.8" fill="#f5dcec" text-anchor="middle">pan RAS</text>
<text x="366" y="640" font-size="9.5" fill="#111" textLength="90" lengthAdjust="spacingAndGlyphs">ON state, non-covalent</text>
<text x="522" y="640" font-size="9.5" fill="#111" textLength="90" lengthAdjust="spacingAndGlyphs">ON state, non-covalent</text>

<!-- Tri C -->
<g fill="#dcdcdc"><circle cx="413" cy="743" r="17"/><circle cx="401" cy="749" r="11"/><circle cx="426" cy="748" r="11"/><circle cx="413" cy="730" r="15"/><circle cx="413" cy="756" r="8"/></g>
<use href="#cypa" x="409" y="674"/>
<g fill="#9b4ccc"><ellipse cx="394" cy="719" rx="11" ry="15" transform="rotate(15 394 719)"/><circle cx="389" cy="728" r="8"/></g>
<g fill="#4e7fe4"><ellipse cx="422" cy="714" rx="16" ry="10"/><circle cx="414" cy="710" r="7"/><circle cx="430" cy="710" r="7"/></g>
<text x="385" y="722" font-size="6" fill="#f4e6ff">SWII</text>
<text x="417" y="714" font-size="6" fill="#e6efff">SWI</text>
<rect x="398" y="697" width="9" height="24" rx="4" fill="#c9802c" stroke="#a8651e" stroke-width="0.5" transform="rotate(-12 402 709)"/>
<ellipse cx="415" cy="726" rx="8" ry="4.5" fill="#f6d0da" stroke="#333" stroke-width="0.8"/>
<text x="415" y="728" font-size="5.5" fill="#222" text-anchor="middle">GTP</text>
<circle cx="408" cy="736" r="3" fill="#7a6ac8"/>
<line x1="410" y1="737" x2="420" y2="740" stroke="#333" stroke-width="0.6"/>
<text x="421" y="742" font-size="6.5" fill="#222" textLength="14" lengthAdjust="spacingAndGlyphs">G12V</text>
<circle cx="403" cy="707" r="1.3" fill="#223"/>
<polyline points="403,707 435,707 447,715" fill="none" stroke="#556" stroke-width="0.7"/>
<circle cx="416" cy="675" r="1.3" fill="#334"/>
<line x1="416" y1="675" x2="448" y2="675" stroke="#556" stroke-width="0.7"/>
<text x="452" y="679" font-size="8" fill="#2e4e80" textLength="20" lengthAdjust="spacingAndGlyphs">CYPA</text>
<g font-size="9.5" fill="#b07840">
<text x="450" y="722">e.g.</text>
<text x="450" y="732" textLength="47" lengthAdjust="spacingAndGlyphs">· RMC-5127</text>
</g>

<!-- Tri D -->
<g fill="#f3aaa5"><circle cx="566" cy="742" r="22"/><circle cx="551" cy="752" r="13"/><circle cx="582" cy="752" r="13"/><circle cx="566" cy="760" r="10"/><circle cx="556" cy="730" r="11"/><circle cx="580" cy="731" r="11"/></g>
<use href="#cypa" x="560" y="674"/>
<g fill="#9b4ccc"><ellipse cx="546" cy="722" rx="11" ry="15" transform="rotate(15 546 722)"/><circle cx="542" cy="731" r="8"/></g>
<g fill="#4e7fe4"><ellipse cx="579" cy="715" rx="16" ry="10"/><circle cx="571" cy="711" r="7"/><circle cx="587" cy="711" r="7"/></g>
<text x="537" y="725" font-size="6" fill="#f4e6ff">SWII</text>
<text x="575" y="715" font-size="6" fill="#e6efff">SWI</text>
<rect x="552" y="697" width="9" height="24" rx="4" fill="#e0705a" stroke="#b8503e" stroke-width="0.5" transform="rotate(-15 556 709)"/>
<ellipse cx="572" cy="724" rx="8" ry="4.5" fill="#f6d0da" stroke="#333" stroke-width="0.8"/>
<text x="572" y="726" font-size="5.5" fill="#222" text-anchor="middle">GTP</text>
<circle cx="557" cy="706" r="1.3" fill="#223"/>
<polyline points="557,706 590,706 603,715" fill="none" stroke="#556" stroke-width="0.7"/>
<circle cx="568" cy="675" r="1.3" fill="#334"/>
<line x1="568" y1="675" x2="602" y2="675" stroke="#556" stroke-width="0.7"/>
<text x="608" y="679" font-size="8" fill="#2e4e80" textLength="21" lengthAdjust="spacingAndGlyphs">CYPA</text>
<g font-size="9.5" fill="#c8457a">
<text x="605" y="722">e.g.</text>
<text x="605" y="732" textLength="58" lengthAdjust="spacingAndGlyphs">· Daraxonrasib</text>
<text x="607" y="742" textLength="48" lengthAdjust="spacingAndGlyphs">(RMC-6236)</text>
<text x="605" y="752" textLength="47" lengthAdjust="spacingAndGlyphs">· ERAS-0015</text>
</g>
<line x1="567" y1="750" x2="595" y2="763" stroke="#3a5a80" stroke-width="0.7"/>
<circle cx="567" cy="750" r="1.2" fill="#334"/>
<text x="598" y="768" font-size="8" fill="#3a6aa0" textLength="82" lengthAdjust="spacingAndGlyphs">KRAS, NRAS, HRAS</text>

<!-- Isoform selective -->
<rect x="37" y="753" width="68" height="19" rx="9.5" fill="#6c60c9"/>
<text x="71" y="761.5" font-size="6.8" fill="#e8e4f8" text-anchor="middle">KRAS isoform</text>
<text x="71" y="769.5" font-size="6.8" fill="#e8e4f8" text-anchor="middle">selective</text>
<text x="45" y="788" font-size="9.5" fill="#111" textLength="92" lengthAdjust="spacingAndGlyphs">OFF state, non-covalent</text>
<text x="160" y="788" font-size="9.5" fill="#111" textLength="110" lengthAdjust="spacingAndGlyphs">ON/OFF state, non-covalent</text>

<use href="#prot" x="88" y="838"/>
<ellipse cx="79" cy="830" rx="5" ry="8" fill="#f2c47e" transform="rotate(35 79 830)"/>
<circle cx="79" cy="840" r="3.8" fill="#f2c47e"/>
<use href="#chain" stroke="#6a5ab8" transform="translate(60,840) rotate(-38)"/>
<text x="67" y="818" font-size="6" fill="#f4e6ff">SWII</text>
<text x="96" y="813" font-size="6" fill="#e6efff">SWI</text>
<ellipse cx="98" cy="822" rx="8.5" ry="4.5" fill="#d4efe2" stroke="#2d4a3a" stroke-width="0.9"/>
<text x="98" y="824" font-size="5.8" fill="#223" text-anchor="middle">GDP</text>
<text x="76" y="853" font-size="6.5" fill="#b0486e" textLength="34" lengthAdjust="spacingAndGlyphs">SWII pocket</text>
<line x1="62" y1="840" x2="48" y2="873" stroke="#6a6a8a" stroke-width="0.7"/>
<g font-size="9.5" fill="#8a78c8">
<text x="45" y="882">e.g.</text>
<text x="45" y="893" textLength="35" lengthAdjust="spacingAndGlyphs">· BI-2865</text>
</g>

<use href="#prot" x="206" y="840"/>
<ellipse cx="196" cy="832" rx="5" ry="8" fill="#f2c47e" transform="rotate(35 196 832)"/>
<circle cx="197" cy="842" r="3.8" fill="#f2c47e"/>
<use href="#chain" stroke="#6a5ab8" transform="translate(179,838) rotate(-36)"/>
<text x="185" y="820" font-size="6" fill="#f4e6ff">SWII</text>
<text x="214" y="815" font-size="6" fill="#e6efff">SWI</text>
<path d="M216,819.5 A8.5,4.5 0 0 0 216,828.5 Z" fill="#f5c8d8"/>
<path d="M216,819.5 A8.5,4.5 0 0 1 216,828.5 Z" fill="#e6f3ee"/>
<ellipse cx="216" cy="824" rx="8.5" ry="4.5" fill="none" stroke="#222" stroke-width="0.9"/>
<circle cx="217" cy="824" r="1" fill="#223"/>
<polyline points="217,824 235,823 247,833" fill="none" stroke="#333" stroke-width="0.6"/>
<text x="241" y="842" font-size="8" fill="#222" textLength="32" lengthAdjust="spacingAndGlyphs">GTP/GDP</text>
<text x="192" y="853" font-size="6.5" fill="#b0486e" textLength="33" lengthAdjust="spacingAndGlyphs">SWII pocket</text>
<line x1="180" y1="837" x2="165" y2="870" stroke="#6a6a8a" stroke-width="0.7"/>
<g font-size="9.5" fill="#8a78c8">
<text x="158" y="878">e.g.</text>
<text x="158" y="888.5" textLength="169" lengthAdjust="spacingAndGlyphs">· multiple inhibitors in clinical development</text>
<text x="158" y="898">(see</text>
<text x="176" y="898" font-weight="bold" fill="#6a4fa8" textLength="24" lengthAdjust="spacingAndGlyphs">Table2</text>
<text x="201" y="898">)</text>
</g>
</svg>
</body></html>
